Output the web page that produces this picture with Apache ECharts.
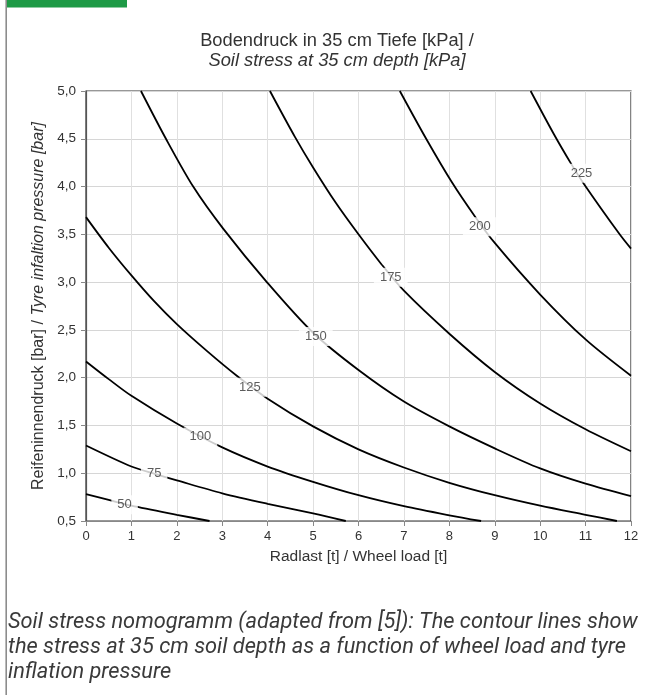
<!DOCTYPE html>
<html>
<head>
<meta charset="utf-8">
<script src="https://cdn.jsdelivr.net/npm/echarts@6/dist/echarts.min.js"></script>
<style>
html,body{margin:0;padding:0;background:#fff;}
#chart{width:652px;height:695px;}
</style>
</head>
<body>
<div id="chart"></div>
<script>
// ---- data ----
const xTickValues = [0,1,2,3,4,5,6,7,8,9,10,11,12];
const yTickLabels = ['0,5','1,0','1,5','2,0','2,5','3,0','3,5','4,0','4,5','5,0'];
const contourLevels = ['50','75','100','125','150','175','200','225'];
const c50  = [[0,0.78],[0.5,0.72],[1.0,0.66],[2.0,0.565],[2.72,0.5]];
const c75  = [[0,1.29],[1.0,1.07],[1.5,0.995],[2.0,0.925],[3.0,0.79],[4.0,0.68],[5.0,0.58],[5.72,0.5]];
const c100 = [[0,2.17],[0.5,1.985],[1.0,1.81],[2.0,1.52],[3.0,1.27],[4.0,1.07],[5.0,0.91],[6.0,0.77],[7.0,0.655],[8.0,0.56],[8.7,0.5]];
const c125 = [[0,3.68],[0.5,3.36],[1.0,3.07],[1.5,2.8],[2.0,2.56],[2.66,2.28],[3.32,2.02],[4.0,1.78],[5.0,1.49],[6.0,1.25],[7.0,1.06],[8.0,0.9],[9.0,0.77],[10.0,0.66],[11.0,0.565],[11.69,0.5]];
const c150 = [[1.21,5.0],[1.76,4.5],[2.36,4.0],[3.02,3.56],[4.0,2.99],[5.0,2.47],[6.0,2.08],[7.0,1.75],[8.0,1.49],[9.0,1.26],[10.0,1.05],[11.0,0.89],[12,0.76]];
const c175 = [[4.05,5.0],[4.6,4.52],[5.0,4.2],[5.5,3.83],[6.0,3.5],[6.5,3.19],[7.0,2.91],[8.0,2.46],[9.0,2.06],[10.0,1.73],[11.0,1.46],[12,1.23]];
const c200 = [[6.91,5.0],[7.49,4.5],[8.05,4.05],[8.56,3.69],[9.0,3.41],[10.0,2.87],[11.0,2.4],[12,2.02]];
const c225 = [[9.79,5.0],[10.3,4.55],[10.68,4.24],[10.96,4.03],[11.75,3.5],[12,3.35]];
const labelPositions = [[0.85,0.67],[1.5,1.0],[2.52,1.38],[3.61,1.9],[5.06,2.43],[6.71,3.05],[8.67,3.58],[10.91,4.14]];

const titleLine1 = 'Bodendruck in 35 cm Tiefe [kPa] /';
const titleLine2 = 'Soil stress at 35 cm depth [kPa]';
const xName = 'Radlast [t] / Wheel load [t]';
const yNameDe = 'Reifeninnendruck [bar] / ';
const yNameEn = 'Tyre infaltion pressure [bar]';
const captionLines = [
  'Soil stress nomogramm (adapted from [5]): The contour lines show',
  'the stress at 35 cm soil depth as a function of wheel load and tyre',
  'inflation pressure'
];

// ---- chart ----
const FONT = "'Liberation Sans', Arial, sans-serif";
const curves = [c50,c75,c100,c125,c150,c175,c200,c225];
const chart = echarts.init(document.getElementById('chart'), null, {renderer:'canvas'});

const lineSeries = curves.map((c, i) => ({
  type: 'line',
  name: contourLevels[i],
  data: c,
  showSymbol: false,
  symbol: 'none',
  smooth: 0.3,
  lineStyle: {color: '#000', width: 1.8},
  silent: true,
  z: 3
}));

const labelSeries = {
  type: 'scatter',
  symbolSize: 1,
  itemStyle: {color: 'rgba(0,0,0,0)'},
  data: labelPositions.map((p, i) => [p[0], p[1], contourLevels[i]]),
  label: {
    show: true,
    position: 'inside',
    formatter: p => p.value[2],
    fontFamily: FONT,
    fontSize: 13,
    color: '#333',
    backgroundColor: '#fff',
    padding: [3, 6]
  },
  silent: true,
  z: 5
};

const option = {
  animation: false,
  backgroundColor: '#fff',
  grid: {left: 86, right: 21, top: 91, bottom: 174, show: true, borderColor: '#333', borderWidth: 1.2, containLabel: false},
  xAxis: {
    type: 'value', min: 0, max: 12, interval: 1,
    name: xName, nameLocation: 'middle', nameGap: 28,
    nameTextStyle: {fontFamily: FONT, fontSize: 15.5, color: '#333'},
    axisLine: {show: true, lineStyle: {color: '#888', width: 1.2}},
    axisTick: {show: true, length: 5, lineStyle: {color: '#888'}},
    axisLabel: {fontFamily: FONT, fontSize: 13, color: '#333', margin: 9,
      formatter: v => xTickValues.includes(v) ? String(v) : ''},
    splitLine: {show: true, lineStyle: {color: '#e0e0e0', width: 1}}
  },
  yAxis: {
    type: 'value', min: 0.5, max: 5.0, interval: 0.5,
    name: '{n|' + yNameDe + '}{i|' + yNameEn + '}',
    nameLocation: 'middle', nameGap: 34, nameRotate: 90,
    nameTextStyle: {fontFamily: FONT, fontSize: 16, color: '#333',
      rich: {n: {fontFamily: FONT, fontSize: 16, color: '#333'},
             i: {fontFamily: FONT, fontSize: 16, color: '#333', fontStyle: 'italic'}}},
    axisLine: {show: true, lineStyle: {color: '#555', width: 1.2}},
    axisTick: {show: true, length: 5, lineStyle: {color: '#888'}},
    axisLabel: {fontFamily: FONT, fontSize: 13.5, color: '#333', margin: 10,
      formatter: v => yTickLabels[Math.round((v - 0.5) / 0.5)] || ''},
    splitLine: {show: true, lineStyle: {color: '#d6d6d6', width: 1}}
  },
  graphic: [
    {type: 'rect', shape: {x: 6, y: 0, width: 121, height: 7.5}, style: {fill: '#1e9a46'}},
    {type: 'line', shape: {x1: 6.2, y1: 0, x2: 6.2, y2: 695}, style: {stroke: '#8c8c8c', lineWidth: 1.6}},
    {type: 'text', x: 337, y: 40.5, style: {text: titleLine1, font: "18.3px " + FONT, fill: '#333', textAlign: 'center', textVerticalAlign: 'middle'}},
    {type: 'text', x: 337, y: 61, style: {text: titleLine2, font: "italic 18.3px " + FONT, fill: '#333', textAlign: 'center', textVerticalAlign: 'middle'}},
    {type: 'text', x: 8, y: 610, style: {text: captionLines.join('\n'), font: "italic 21.8px Roboto, 'Liberation Sans', sans-serif", lineHeight: 25, fill: '#3a3a3a', textAlign: 'left', textVerticalAlign: 'top'}}
  ],
  series: [...lineSeries, labelSeries]
};
chart.setOption(option);
</script>
</body>
</html>
